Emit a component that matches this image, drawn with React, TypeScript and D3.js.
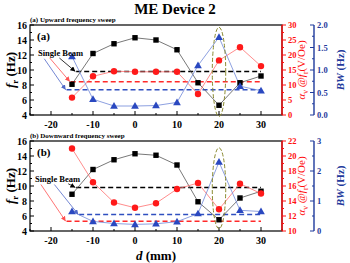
import { useEffect, useRef } from "react";
import * as d3 from "d3";

// distance of the magnet, mm
const distances = [-15, -10, -5, 0, 5, 10, 15, 20, 25, 30];

// (a) upward sweep
const upFreq = [8.1, 12.2, 13.5, 14.3, 14.0, 12.7, 8.3, 5.3, 8.3, 9.2];
const upAlpha = [5.8, 12.9, 14.6, 14.4, 14.4, 14.4, 7.0, 18.2, 22.6, 16.3];
const upBW = [1.3, 0.35, 0.2, 0.2, 0.21, 0.28, 1.1, 1.73, 0.64, 0.54];
const upSingle = [9.8, 11.1, 0.56]; // fr, alpha, BW of the single beam

// (b) downward sweep
const downFreq = [8.9, 12.2, 13.5, 14.3, 14.1, 12.8, 7.9, 5.5, 8.4, 9.3];
const downAlpha = [21.0, 16.5, 13.8, 13.1, 13.7, 15.6, 16.4, 12.9, 16.3, 15.0];
const downBW = [0.65, 0.32, 0.25, 0.22, 0.24, 0.31, 0.58, 2.3, 0.69, 0.65];
const downSingle = [9.8, 11.3, 0.55];

const xTicks = [-20, -10, 0, 10, 20, 30];
const freqTicks = [4, 6, 8, 10, 12, 14, 16];

const FONT = "'Liberation Serif', 'Times New Roman', serif";
const RED = "#ff1010";
const BLUE = "#1f3a9c";
const OLIVE = "#8a8a30";

type Panel = {
  top: number;
  bottom: number;
  label: string;
  tag: string;
  freq: number[];
  alpha: number[];
  bw: number[];
  single: number[];
  alphaDomain: [number, number];
  alphaStep: number;
  bwDomain: [number, number];
  bwStep: number;
  bwFormat: string;
  dashStart: number[]; // start d of black, red, blue dashed lines
  arrows: [number, number, number, number, string][]; // from d,fr to d,(line)
  textPos: [number, number];
  ellipse: [number, number];
};

const panels: Panel[] = [
  {
    top: 25,
    bottom: 115,
    label: "(a) Upward frequency sweep",
    tag: "(a)",
    freq: upFreq,
    alpha: upAlpha,
    bw: upBW,
    single: upSingle,
    alphaDomain: [0, 30],
    alphaStep: 5,
    bwDomain: [0, 2],
    bwStep: 0.5,
    bwFormat: ".1f",
    dashStart: [-14, -15.3, -16.3],
    arrows: [
      [-18, 11.6, -14.2, 0, "black"],
      [-20.3, 11.6, -15.5, 1, "red"],
      [-21.6, 11.5, -16.5, 2, "blue"],
    ],
    textPos: [-23.1, 11.9],
    ellipse: [15.7, 3.8],
  },
  {
    top: 141,
    bottom: 231,
    label: "(b) Downward frequency sweep",
    tag: "(b)",
    freq: downFreq,
    alpha: downAlpha,
    bw: downBW,
    single: downSingle,
    alphaDomain: [10, 22],
    alphaStep: 2,
    bwDomain: [0, 3],
    bwStep: 1,
    bwFormat: "d",
    dashStart: [-14, -16.3, -13.3],
    arrows: [
      [-15.9, 10.3, -14.2, 0, "black"],
      [-22.4, 10.2, -16.5, 1, "red"],
      [-19.2, 10.2, -13.5, 2, "blue"],
    ],
    textPos: [-23.8, 10.5],
    ellipse: [15.1, 4.3],
  },
];

export default function App() {
  const ref = useRef<SVGSVGElement>(null);

  useEffect(() => {
    if (!ref.current) return;
    const svg = d3.select(ref.current);
    svg.selectAll("*").remove();

    const left = 30;
    const right = 282;
    const blueAxisX = 314;

    const x = d3.scaleLinear().domain([-25, 35]).range([left, right]);

    const defs = svg.append("defs");
    const arrowColors: Record<string, string> = {
      black: "#000",
      red: "#ff5050",
      blue: "#5068c8",
    };
    Object.entries(arrowColors).forEach(([k, c]) => {
      defs
        .append("marker")
        .attr("id", `arrow-${k}`)
        .attr("viewBox", "0 0 6 6")
        .attr("refX", 6)
        .attr("refY", 3)
        .attr("markerWidth", 5)
        .attr("markerHeight", 5)
        .attr("markerUnits", "userSpaceOnUse")
        .attr("orient", "auto")
        .append("path")
        .attr("d", "M0,0L6,3L0,6z")
        .attr("fill", c);
    });

    // title
    svg
      .append("text")
      .attr("x", 175)
      .attr("y", 14)
      .attr("text-anchor", "middle")
      .attr("font-family", FONT)
      .attr("font-weight", "bold")
      .attr("font-size", 15)
      .text("ME Device 2");

    panels.forEach((p) => {
      const y = d3.scaleLinear().domain([4, 16]).range([p.bottom, p.top]);
      const yA = d3.scaleLinear().domain(p.alphaDomain).range([p.bottom, p.top]);
      const yB = d3.scaleLinear().domain(p.bwDomain).range([p.bottom, p.top]);
      const g = svg.append("g");

      // panel caption
      g.append("text")
        .attr("x", left)
        .attr("y", p.top - 3)
        .attr("font-family", FONT)
        .attr("font-weight", "bold")
        .attr("font-size", 7)
        .text(p.label);

      // frame
      g.append("rect")
        .attr("x", left)
        .attr("y", p.top)
        .attr("width", right - left)
        .attr("height", p.bottom - p.top)
        .attr("fill", "none")
        .attr("stroke", "#000")
        .attr("stroke-width", 1.2);

      // left axis ticks (inward)
      d3.range(4, 16.01, 1).forEach((v) => {
        const major = v % 2 === 0;
        g.append("line")
          .attr("x1", left)
          .attr("x2", left + (major ? 4 : 2))
          .attr("y1", y(v))
          .attr("y2", y(v))
          .attr("stroke", "#000");
      });
      freqTicks.forEach((v) => {
        g.append("text")
          .attr("x", left - 3)
          .attr("y", y(v) + 3.5)
          .attr("text-anchor", "end")
          .attr("font-family", FONT)
          .attr("font-weight", "bold")
          .attr("font-size", 10)
          .text(v);
      });

      // bottom axis ticks (inward)
      d3.range(-25, 35.01, 5).forEach((v) => {
        const major = v % 10 === 0;
        g.append("line")
          .attr("x1", x(v))
          .attr("x2", x(v))
          .attr("y1", p.bottom)
          .attr("y2", p.bottom - (major ? 4 : 2))
          .attr("stroke", "#000");
      });
      xTicks.forEach((v) => {
        g.append("text")
          .attr("x", x(v))
          .attr("y", p.bottom + 13)
          .attr("text-anchor", "middle")
          .attr("font-family", FONT)
          .attr("font-weight", "bold")
          .attr("font-size", 10)
          .text(v);
      });

      // left axis title
      const ty = (p.top + p.bottom) / 2;
      const lt = g
        .append("text")
        .attr("transform", `translate(15,${ty}) rotate(-90)`)
        .attr("text-anchor", "middle")
        .attr("font-family", FONT)
        .attr("font-weight", "bold")
        .attr("font-size", 13);
      lt.append("tspan").attr("font-style", "italic").text("f");
      lt.append("tspan").attr("font-size", 9).attr("dy", 3).text("r");
      lt.append("tspan").attr("dy", -3).text(" (Hz)");

      // red axis
      g.append("line")
        .attr("x1", right)
        .attr("x2", right)
        .attr("y1", p.top)
        .attr("y2", p.bottom)
        .attr("stroke", RED)
        .attr("stroke-width", 1.4);
      const [a0, a1] = p.alphaDomain;
      d3.range(a0, a1 + 0.001, p.alphaStep / 2).forEach((v, i) => {
        g.append("line")
          .attr("x1", right)
          .attr("x2", right + (i % 2 === 0 ? 4 : 2))
          .attr("y1", yA(v))
          .attr("y2", yA(v))
          .attr("stroke", RED);
      });
      d3.range(a0, a1 + 0.001, p.alphaStep).forEach((v) => {
        g.append("text")
          .attr("x", right + 6)
          .attr("y", yA(v) + 3)
          .attr("font-family", FONT)
          .attr("font-weight", "bold")
          .attr("font-size", 8.5)
          .attr("fill", RED)
          .text(v);
      });
      const rt = g
        .append("text")
        .attr("transform", `translate(305,${ty}) rotate(-90)`)
        .attr("text-anchor", "middle")
        .attr("font-family", FONT)
        .attr("font-size", 11)
        .attr("fill", RED);
      rt.append("tspan").attr("font-style", "italic").text("α");
      rt.append("tspan").attr("font-size", 7.5).attr("dy", 2.5).text("v");
      rt.append("tspan").attr("dy", -2.5).text(" @");
      rt.append("tspan").attr("font-style", "italic").text("f");
      rt.append("tspan").attr("font-size", 7.5).attr("dy", 2.5).text("r");
      rt.append("tspan").attr("dy", -2.5).text("(V/Oe)");

      // blue axis
      g.append("line")
        .attr("x1", blueAxisX)
        .attr("x2", blueAxisX)
        .attr("y1", p.top)
        .attr("y2", p.bottom)
        .attr("stroke", BLUE)
        .attr("stroke-width", 1.4);
      const [b0, b1] = p.bwDomain;
      d3.range(b0, b1 + 0.001, p.bwStep / 2).forEach((v, i) => {
        g.append("line")
          .attr("x1", blueAxisX)
          .attr("x2", blueAxisX - (i % 2 === 0 ? 4 : 2))
          .attr("y1", yB(v))
          .attr("y2", yB(v))
          .attr("stroke", BLUE);
      });
      d3.range(b0, b1 + 0.001, p.bwStep).forEach((v) => {
        g.append("text")
          .attr("x", blueAxisX + 3)
          .attr("y", yB(v) + 3)
          .attr("font-family", FONT)
          .attr("font-weight", "bold")
          .attr("font-size", 8.5)
          .attr("fill", BLUE)
          .text(d3.format(p.bwFormat)(v));
      });
      const bt = g
        .append("text")
        .attr("transform", `translate(344,${ty}) rotate(-90)`)
        .attr("text-anchor", "middle")
        .attr("font-family", FONT)
        .attr("font-weight", "bold")
        .attr("font-size", 11)
        .attr("fill", BLUE);
      bt.append("tspan").attr("font-style", "italic").text("BW");
      bt.append("tspan").text(" (Hz)");

      // single-beam dashed lines
      const dashY = [y(p.single[0]), yA(p.single[1]), yB(p.single[2])];
      const dashCol = ["#000", "#ff2a2a", "#2f4fc0"];
      dashY.forEach((yy, i) => {
        g.append("line")
          .attr("x1", x(p.dashStart[i]))
          .attr("x2", x(30))
          .attr("y1", yy)
          .attr("y2", yy)
          .attr("stroke", dashCol[i])
          .attr("stroke-width", 1.5)
          .attr("stroke-dasharray", "5,3");
      });

      // series lines
      const line = (ys: d3.ScaleLinear<number, number>, vals: number[]) =>
        d3
          .line<number>()
          .x((_, i) => x(distances[i]))
          .y((v) => ys(v))(vals);

      g.append("path")
        .attr("d", line(y, p.freq))
        .attr("fill", "none")
        .attr("stroke", "#555")
        .attr("stroke-width", 0.8);
      g.append("path")
        .attr("d", line(yA, p.alpha))
        .attr("fill", "none")
        .attr("stroke", "#ff7070")
        .attr("stroke-width", 0.8);
      g.append("path")
        .attr("d", line(yB, p.bw))
        .attr("fill", "none")
        .attr("stroke", "#7088d8")
        .attr("stroke-width", 0.8);

      // ellipse around d = 20
      const [eTop, eBot] = p.ellipse;
      g.append("ellipse")
        .attr("cx", x(20))
        .attr("cy", (y(eTop) + y(eBot)) / 2)
        .attr("rx", x(21.6) - x(20))
        .attr("ry", (y(eBot) - y(eTop)) / 2)
        .attr("fill", "none")
        .attr("stroke", OLIVE)
        .attr("stroke-width", 1)
        .attr("stroke-dasharray", "4,2");

      // markers
      g.selectAll(null)
        .data(p.freq)
        .join("rect")
        .attr("x", (_, i) => x(distances[i]) - 2.7)
        .attr("y", (v) => y(v) - 2.7)
        .attr("width", 5.4)
        .attr("height", 5.4)
        .attr("fill", "#000");
      g.selectAll(null)
        .data(p.alpha)
        .join("circle")
        .attr("cx", (_, i) => x(distances[i]))
        .attr("cy", (v) => yA(v))
        .attr("r", 3.2)
        .attr("fill", "#ff1a1a");
      const tri = d3.symbol().type(d3.symbolTriangle).size(26);
      g.selectAll(null)
        .data(p.bw)
        .join("path")
        .attr("d", tri)
        .attr(
          "transform",
          (v, i) => `translate(${x(distances[i])},${yB(v) + 0.5})`
        )
        .attr("fill", "#2a48c0");

      // single beam annotation
      g.append("text")
        .attr("x", x(p.textPos[0]))
        .attr("y", y(p.textPos[1]))
        .attr("font-family", FONT)
        .attr("font-weight", "bold")
        .attr("font-size", 8.5)
        .text("Single Beam");
      p.arrows.forEach(([d0, f0, d1, k, c]) => {
        g.append("line")
          .attr("x1", x(d0))
          .attr("y1", y(f0))
          .attr("x2", x(d1))
          .attr("y2", dashY[k])
          .attr("stroke", arrowColors[c])
          .attr("stroke-width", 0.8)
          .attr("marker-end", `url(#arrow-${c})`);
      });

      g.append("text")
        .attr("x", left + 7)
        .attr("y", p.top + 15)
        .attr("font-family", FONT)
        .attr("font-weight", "bold")
        .attr("font-size", 11)
        .text(p.tag);
    });

    // x axis title
    const xt = svg
      .append("text")
      .attr("x", (left + right) / 2)
      .attr("y", 260)
      .attr("text-anchor", "middle")
      .attr("font-family", FONT)
      .attr("font-weight", "bold")
      .attr("font-size", 13);
    xt.append("tspan").attr("font-style", "italic").text("d");
    xt.append("tspan").text(" (mm)");
  }, []);

  return (
    <svg
      ref={ref}
      width={350}
      height={263}
      style={{ position: "absolute", left: 0, top: 0, background: "#fff" }}
    />
  );
}
